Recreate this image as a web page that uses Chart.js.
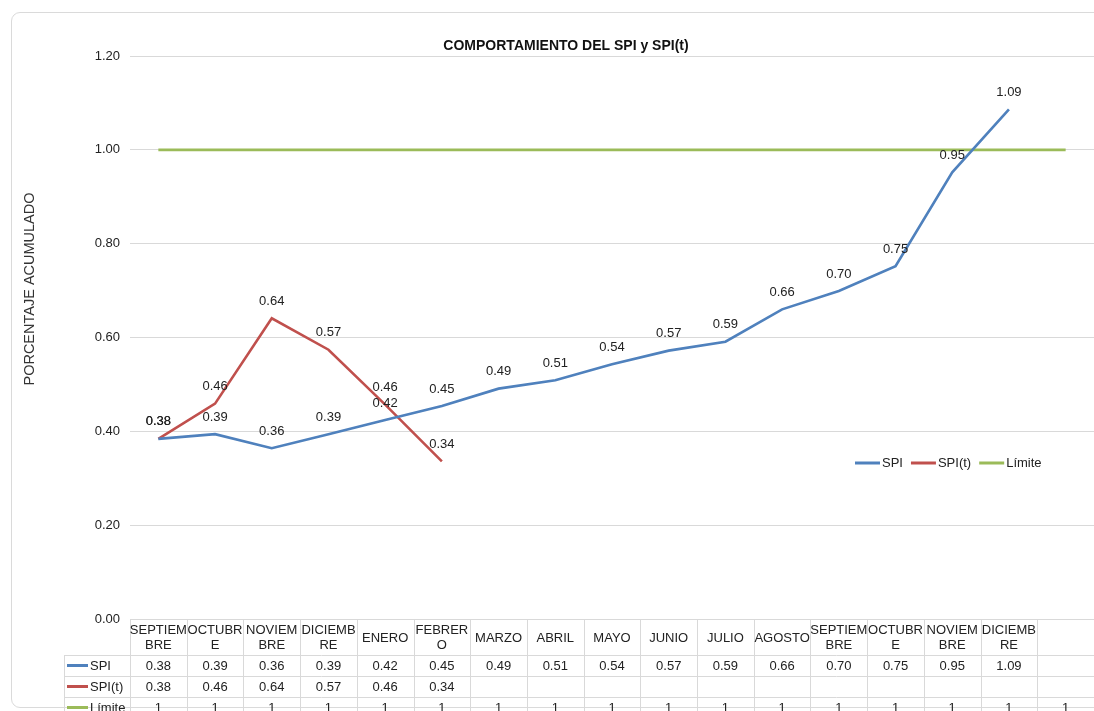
<!DOCTYPE html>
<html>
<head>
<meta charset="utf-8">
<title>COMPORTAMIENTO DEL SPI y SPI(t)</title>
<script src="https://cdn.jsdelivr.net/npm/chart.js@4.4.1/dist/chart.umd.min.js"></script>
<style>
  html, body { margin: 0; padding: 0; background: #ffffff; overflow: hidden; }
  #wrap { position: relative; width: 1094px; height: 711px; }
  #card {
    position: absolute; left: 11px; top: 12px; width: 1200px; height: 696px;
    border: 1px solid #dadada; border-radius: 9px; box-sizing: border-box;
  }
  #c { position: absolute; left: 0; top: 0; }
</style>
</head>
<body>
<div id="wrap">
  <div id="card"></div>
  <canvas id="c" width="1094" height="711"></canvas>
</div>
<script>
// Months of the schedule (the last column only carries the limit line)
const categories = ['SEPTIEMBRE', 'OCTUBRE', 'NOVIEMBRE', 'DICIEMBRE', 'ENERO', 'FEBRERO',
  'MARZO', 'ABRIL', 'MAYO', 'JUNIO', 'JULIO', 'AGOSTO',
  'SEPTIEMBRE', 'OCTUBRE', 'NOVIEMBRE', 'DICIEMBRE', ''];

// Accumulated SPI per month
const spiValues = [0.384, 0.394, 0.364, 0.394, 0.424, 0.454, 0.491, 0.509, 0.543, 0.572,
  0.591, 0.660, 0.699, 0.752, 0.952, 1.086, null];

// Accumulated SPI(t) per month
const spiTValues = [0.384, 0.459, 0.641, 0.574, 0.457, 0.336,
  null, null, null, null, null, null, null, null, null, null, null];

// Reference limit
const limiteValues = [1, 1, 1, 1, 1, 1, 1, 1, 1, 1, 1, 1, 1, 1, 1, 1, 1];

// Y axis ticks
const yTicks = [0, 0.2, 0.4, 0.6, 0.8, 1.0, 1.2];

const seriesNames = ['SPI', 'SPI(t)', 'Límite'];
const seriesColors = ['#4F81BD', '#C0504D', '#9BBB59'];

const FONT = "'Liberation Sans', Arial, sans-serif";
const TEXT = '#222222';
const GRID = '#d9d9d9';

function wrapLabel(ctx, text, maxW) {
  const lines = [];
  let cur = '';
  for (const ch of text) {
    if (cur && ctx.measureText(cur + ch).width > maxW) {
      lines.push(cur);
      cur = ch;
    } else {
      cur += ch;
    }
  }
  if (cur) lines.push(cur);
  return lines;
}

// Title, axis title, value labels, legend and the data table below the plot
const decorations = {
  id: 'decorations',
  afterDraw(chart) {
    const ctx = chart.ctx;
    const a = chart.chartArea;
    const xs = chart.scales.x;
    const n = categories.length;
    const colW = a.width / n;
    ctx.save();

    // chart title
    ctx.fillStyle = '#111111';
    ctx.font = 'bold 14px ' + FONT;
    ctx.textAlign = 'center';
    ctx.textBaseline = 'middle';
    ctx.fillText('COMPORTAMIENTO DEL SPI y SPI(t)', 566, 46);

    // vertical axis title
    ctx.save();
    ctx.translate(30, 289);
    ctx.rotate(-Math.PI / 2);
    ctx.font = '14.5px ' + FONT;
    ctx.fillStyle = '#333333';
    ctx.fillText('PORCENTAJE ACUMULADO', 0, 0);
    ctx.restore();

    // value labels above the SPI and SPI(t) points
    ctx.font = '13px ' + FONT;
    ctx.fillStyle = TEXT;
    [0, 1].forEach(di => {
      const meta = chart.getDatasetMeta(di);
      const data = chart.data.datasets[di].data;
      meta.data.forEach((pt, i) => {
        if (data[i] == null) return;
        ctx.fillText(data[i].toFixed(2), pt.x, pt.y - 17);
      });
    });

    // legend
    ctx.textAlign = 'left';
    let lx = 855;
    const ly = 463;
    seriesNames.forEach((name, i) => {
      ctx.strokeStyle = seriesColors[i];
      ctx.lineWidth = 3;
      ctx.beginPath();
      ctx.moveTo(lx, ly);
      ctx.lineTo(lx + 25, ly);
      ctx.stroke();
      ctx.fillStyle = TEXT;
      ctx.fillText(name, lx + 27, ly);
      lx += 27 + ctx.measureText(name).width + 8;
    });

    // data table
    const top = a.bottom;
    const headH = 36;
    const rowH = 21;
    const keyLeft = 64;
    const rows = [top + headH, top + headH + rowH, top + headH + 2 * rowH];
    ctx.strokeStyle = GRID;
    ctx.lineWidth = 1;
    ctx.beginPath();
    ctx.moveTo(a.left, top + 0.5);
    ctx.lineTo(a.right, top + 0.5);
    rows.forEach(ry => {
      ctx.moveTo(keyLeft, Math.round(ry) + 0.5);
      ctx.lineTo(a.right, Math.round(ry) + 0.5);
    });
    for (let i = 0; i <= n; i++) {
      const vx = Math.round(a.left + i * colW) + 0.5;
      ctx.moveTo(vx, top);
      ctx.lineTo(vx, chart.height);
    }
    ctx.moveTo(keyLeft + 0.5, rows[0]);
    ctx.lineTo(keyLeft + 0.5, chart.height);
    ctx.stroke();

    // header row: month names wrapped to the column width
    ctx.fillStyle = TEXT;
    ctx.textAlign = 'center';
    categories.forEach((cat, i) => {
      if (!cat) return;
      const cx = xs.getPixelForValue(i);
      const lines = wrapLabel(ctx, cat, 58.5);
      const lh = 15.5;
      const y0 = top + headH / 2 - (lines.length - 1) * lh / 2 + 1;
      lines.forEach((ln, k) => ctx.fillText(ln, cx, y0 + k * lh));
    });

    // series rows
    chart.data.datasets.forEach((ds, di) => {
      const cy = rows[di] + rowH / 2 + 1;
      ctx.strokeStyle = seriesColors[di];
      ctx.lineWidth = 3;
      ctx.beginPath();
      ctx.moveTo(keyLeft + 3, cy - 1);
      ctx.lineTo(keyLeft + 24, cy - 1);
      ctx.stroke();
      ctx.textAlign = 'left';
      ctx.fillStyle = TEXT;
      ctx.fillText(ds.label, keyLeft + 26, cy);
      ctx.textAlign = 'center';
      ds.data.forEach((v, i) => {
        if (v == null) return;
        const txt = di === 2 ? String(v) : v.toFixed(2);
        ctx.fillText(txt, xs.getPixelForValue(i), cy);
      });
    });

    ctx.restore();
  }
};

const datasets = [spiValues, spiTValues, limiteValues].map((vals, i) => ({
  label: seriesNames[i],
  data: vals,
  borderColor: seriesColors[i],
  backgroundColor: seriesColors[i],
  borderWidth: 2.6,
  pointRadius: 0,
  pointHoverRadius: 0,
  tension: 0,
  spanGaps: false,
  fill: false
}));

new Chart(document.getElementById('c'), {
  type: 'line',
  data: { labels: categories, datasets },
  options: {
    responsive: false,
    animation: false,
    events: [],
    layout: { padding: { left: 0, right: 0, top: 56, bottom: 92 } },
    plugins: {
      legend: { display: false },
      title: { display: false },
      tooltip: { enabled: false }
    },
    scales: {
      x: {
        type: 'category',
        offset: true,
        display: false
      },
      y: {
        min: yTicks[0],
        max: yTicks[yTicks.length - 1],
        afterBuildTicks(scale) { scale.ticks = yTicks.map(v => ({ value: v })); },
        afterFit(scale) { scale.width = 130; },
        border: { display: false },
        grid: { color: GRID, lineWidth: 1, drawTicks: false },
        ticks: {
          padding: 10,
          color: TEXT,
          font: { family: FONT, size: 13 },
          callback: v => Number(v).toFixed(2)
        }
      }
    }
  },
  plugins: [decorations]
});
</script>
</body>
</html>
